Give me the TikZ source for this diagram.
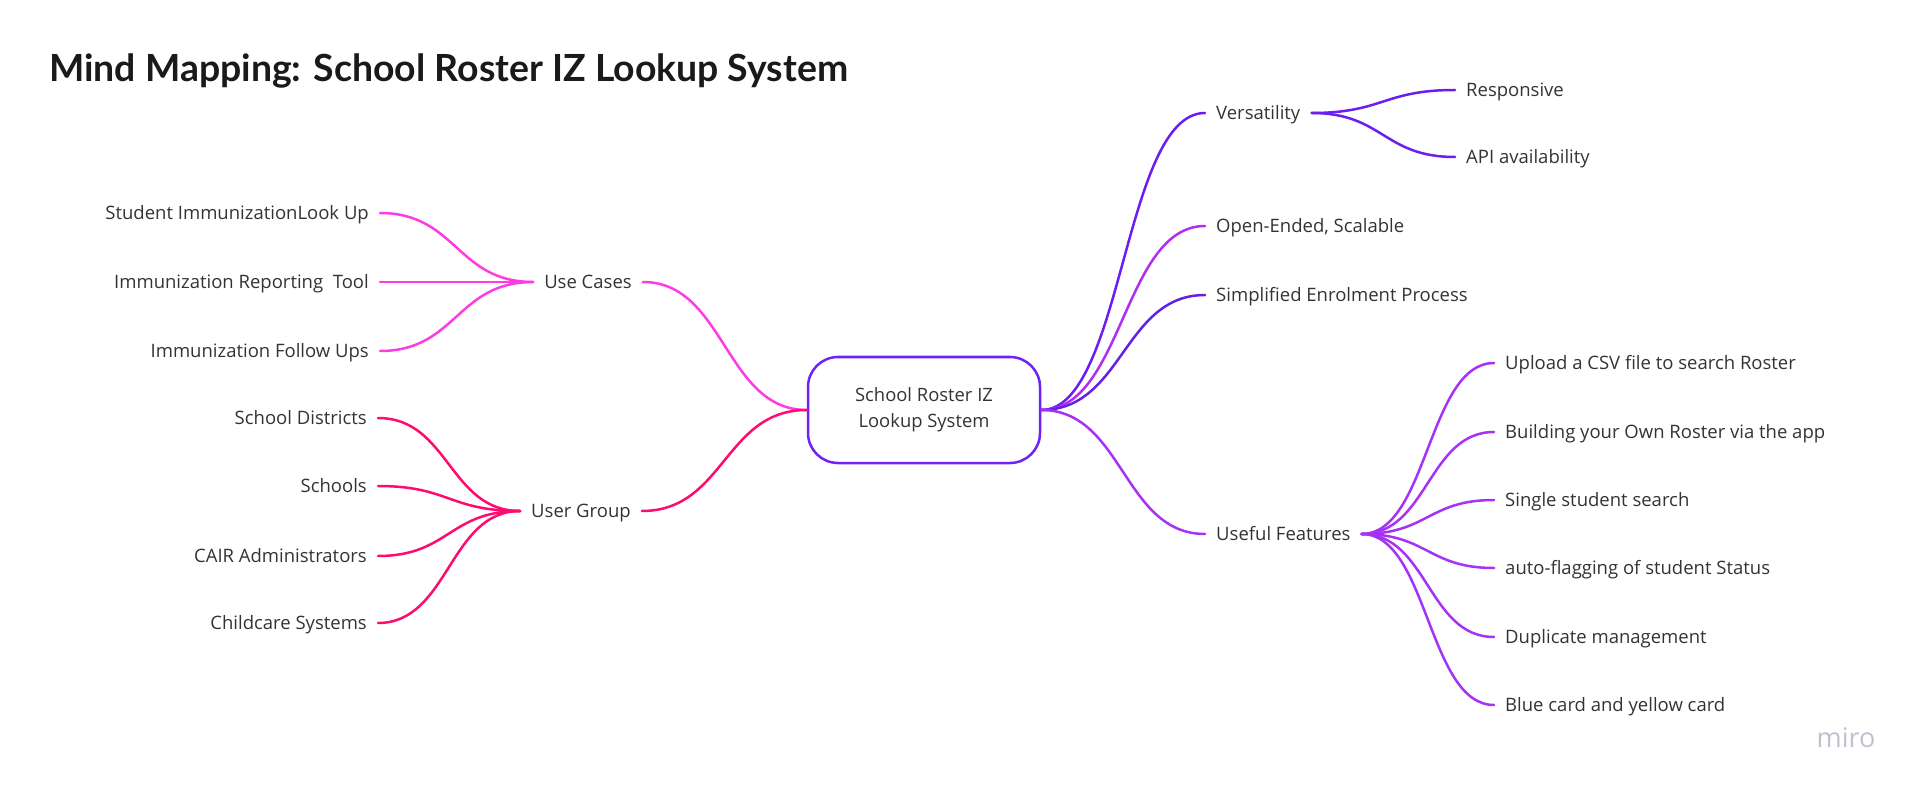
\documentclass[tikz,border=0pt]{standalone}
\usepackage{fontspec}
\setmainfont{Open Sans}
\newfontfamily\titlefont{Lato}
\usetikzlibrary{calc}
\definecolor{txtc}{HTML}{333333}
\definecolor{titlec}{HTML}{1A1A1A}
\definecolor{boxc}{HTML}{7022F5}
\definecolor{ucc}{HTML}{FF3CE2}
\definecolor{ugc}{HTML}{FF0A6E}
\definecolor{verc}{HTML}{6A1FF2}
\definecolor{openc}{HTML}{B02EF2}
\definecolor{simpc}{HTML}{6420E6}
\definecolor{featc}{HTML}{A532F5}
\definecolor{miroc}{HTML}{BFC1CF}
\newcommand\mmconn[3]{\draw[conn,#3] let \p1=(#1.east), \p2=(#2.west), \n1={(\x2-\x1)/2} in (\p1) .. controls +(\n1,0) and +(-\n1,0) .. (\p2);}
\tikzset{
  lbl/.style={font=\fontsize{18.5}{22}\selectfont, text=txtc, inner xsep=11pt, inner ysep=0pt, text height=16.9pt, text depth=3.7pt},
  lleaf/.style={lbl, anchor=east},
  rleaf/.style={lbl, anchor=west},
  conn/.style={line width=2.5pt, line cap=round},
  centerbox/.style={draw=boxc, line width=2.5pt, rounded corners=30pt, minimum width=232pt, minimum height=106pt, align=center, font=\fontsize{18.4}{26}\selectfont, text=txtc}
}
\begin{document}
\begin{tikzpicture}[x=1pt,y=-1pt]
\useasboundingbox (0,0) rectangle (1920,794);
% title
\node[anchor=base west, inner sep=0pt, font=\titlefont\bfseries\fontsize{37.4}{44}\selectfont, text=titlec] (title) at (49,82) {Mind Mapping: School Roster IZ Lookup System};
% centre
\node[centerbox] (root) at (924,410) {School Roster IZ\\Lookup System};
% left branches
\node[lbl] (uc) at (588,282) {Use Cases};
\node[lbl] (ug) at (581,511) {User Group};
\node[lleaf] (uc1) at (380,213) {Student ImmunizationLook Up};
\node[lleaf] (uc2) at (380,282) {Immunization Reporting\ \ Tool};
\node[lleaf] (uc3) at (380,351) {Immunization Follow Ups};
\node[lleaf] (ug1) at (378,418) {School Districts};
\node[lleaf] (ug2) at (378,486) {Schools};
\node[lleaf] (ug3) at (378,556) {CAIR Administrators};
\node[lleaf] (ug4) at (378,623) {Childcare Systems};
% right branches
\node[rleaf] (ver) at (1205,113) {Versatility};
\node[rleaf] (ver1) at (1455,90) {Responsive};
\node[rleaf] (ver2) at (1455,157) {API availability};
\node[rleaf] (open) at (1205,226) {Open-Ended, Scalable};
\node[rleaf] (simp) at (1205,295) {Simplified Enrolment Process};
\node[rleaf] (feat) at (1205,534) {Useful Features};
\node[rleaf] (f1) at (1494,363) {Upload a CSV file to search Roster};
\node[rleaf] (f2) at (1494,432) {Building your Own Roster via the app};
\node[rleaf] (f3) at (1494,500) {Single student search};
\node[rleaf] (f4) at (1494,568) {auto-flagging of student Status};
\node[rleaf] (f5) at (1494,637) {Duplicate management};
\node[rleaf] (f6) at (1494,705) {Blue card and yellow card};
% watermark
\node[anchor=center, inner sep=0pt, font=\fontsize{27}{30}\selectfont, text=miroc] (miro) at (1846,738) {miro};
% connectors
\mmconn{uc}{root}{ucc}
\mmconn{ug}{root}{ugc}
\mmconn{uc1}{uc}{ucc}
\mmconn{uc2}{uc}{ucc}
\mmconn{uc3}{uc}{ucc}
\mmconn{ug1}{ug}{ugc}
\mmconn{ug2}{ug}{ugc}
\mmconn{ug3}{ug}{ugc}
\mmconn{ug4}{ug}{ugc}
\mmconn{root}{ver}{verc}
\mmconn{root}{open}{openc}
\mmconn{root}{simp}{simpc}
\mmconn{root}{feat}{featc}
\mmconn{ver}{ver1}{verc}
\mmconn{ver}{ver2}{verc}
\mmconn{feat}{f1}{featc}
\mmconn{feat}{f2}{featc}
\mmconn{feat}{f3}{featc}
\mmconn{feat}{f4}{featc}
\mmconn{feat}{f5}{featc}
\mmconn{feat}{f6}{featc}
\end{tikzpicture}
\end{document}
